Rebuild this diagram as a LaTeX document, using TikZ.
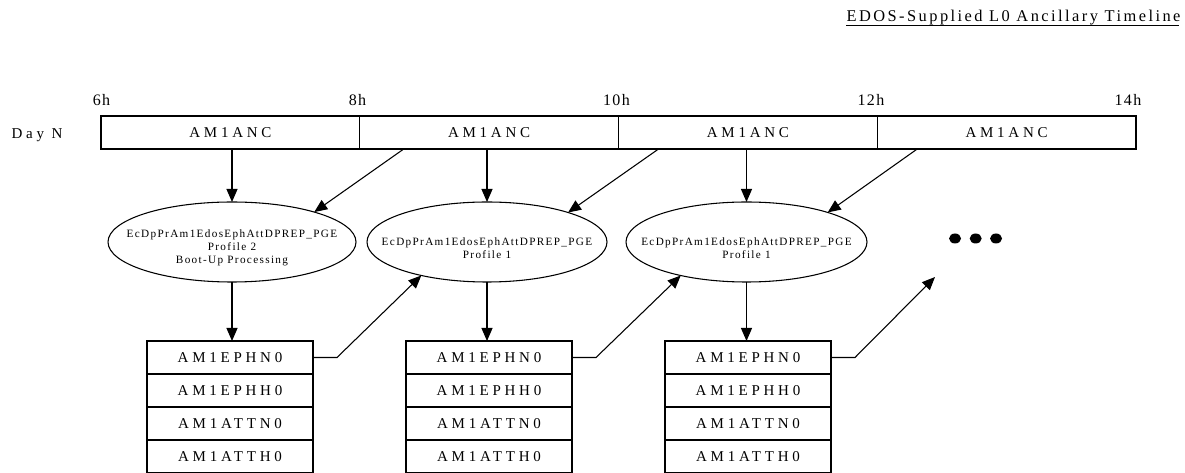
\documentclass[tikz,border=0pt]{standalone}
\usepackage{fontspec}
\setmainfont{Liberation Serif}
\newfontfamily\spacedA[LetterSpace=25]{Liberation Serif}
\newfontfamily\spacedB[LetterSpace=12]{Liberation Serif}
\newfontfamily\spacedT[LetterSpace=15]{Liberation Serif}
\newfontfamily\spacedC[LetterSpace=8]{Liberation Serif}
\usetikzlibrary{shapes.geometric,arrows.meta,calc}
\begin{document}
\begin{tikzpicture}[x=0.75pt,y=-0.75pt,line width=0.8pt,
  seg/.style={draw,rectangle,minimum width=194.06pt,minimum height=24.75pt,inner sep=0pt,outer sep=0pt,
    font=\spacedA\fontsize{11.25}{13}\selectfont},
  row/.style={draw,rectangle,minimum width=124.5pt,minimum height=24.75pt,inner sep=0pt,outer sep=0pt,
    font=\spacedA\fontsize{11.25}{13}\selectfont},
  proc/.style={draw,ellipse,minimum height=60pt,inner sep=0pt,outer sep=0pt},
  ptext/.style={align=center,inner sep=0pt,font=\spacedB\fontsize{8.4}{9.9}\selectfont},
  hour/.style={anchor=base,inner sep=0pt,font=\spacedC\fontsize{12}{14}\selectfont},
  dot/.style={fill,ellipse,minimum width=9pt,minimum height=7.5pt,inner sep=0pt},
  arr/.style={-{Triangle[length=9.75pt,width=8.25pt]}}]
\useasboundingbox (0,0) rectangle (1185,473);

% title
\node[anchor=base east,inner sep=0pt,font=\spacedT\fontsize{12.3}{14}\selectfont] (title) at (1181,22) {EDOS-Supplied L0 Ancillary Timeline};
\draw[line width=0.6pt] ([yshift=-2.2pt]title.base west) -- ([yshift=-2.2pt,xshift=-1.5pt]title.base east);

% hours
\node[hour] (h6) at (101.5,106) {6h};
\node[hour] (h8) at (357.5,106) {8h};
\node[hour] (h10) at (616.5,106) {10h};
\node[hour] (h12) at (871,106) {12h};
\node[hour] (h14) at (1128,106) {14h};
\node[anchor=base,inner sep=0pt,font=\spacedA\fontsize{11.25}{13}\selectfont] (day) at (37,139) {Day N};

% timeline
\node[seg] (s1) at (230.4,132.5) {AM1ANC};
\node[seg] (s2) at (489.1,132.5) {AM1ANC};
\node[seg] (s3) at (747.9,132.5) {AM1ANC};
\node[seg] (s4) at (1006.6,132.5) {AM1ANC};

% processes
\node[proc,minimum width=186pt] (e1) at (232,242) {};
\node[proc,minimum width=180pt] (e2) at (487,242) {};
\node[proc,minimum width=180.75pt] (e3) at (746.5,242) {};
\node[ptext] (t1) at (232,248) {EcDpPrAm1EdosEphAttDPREP\_PGE\\Profile 2\\Boot-Up Processing};
\node[ptext] (t2) at (487,248.5) {EcDpPrAm1EdosEphAttDPREP\_PGE\\Profile 1};
\node[ptext] (t3) at (746.5,248.5) {EcDpPrAm1EdosEphAttDPREP\_PGE\\Profile 1};

% dots
\node[dot] (d1) at (955,238.5) {};
\node[dot] (d2) at (975.7,238.5) {};
\node[dot] (d3) at (996,238.5) {};

% stacks
\foreach \k/\x in {1/230,2/489,3/748}{
  \node[row] (r\k1) at (\x,357.5) {AM1EPHN0};
  \node[row] (r\k2) at (\x,390.5) {AM1EPHH0};
  \node[row] (r\k3) at (\x,423.5) {AM1ATTN0};
  \node[row] (r\k4) at (\x,456.5) {AM1ATTH0};
}

% connectors from timeline
\draw[arr] (s1.south -| e1.north) -- (e1.north);
\draw[arr] (s2.south -| e2.north) -- (e2.north);
\draw[arr] (s3.south -| e3.north) -- (e3.north);
\draw[arr] ($(s2.south west)+(44,0)$) -- (e1.20);
\draw[arr] ($(s3.south west)+(40,0)$) -- (e2.20);
\draw[arr] ($(s4.south west)+(40,0)$) -- (e3.20);

% process to stack
\draw[arr] (e1.south) -- (e1.south |- r11.north);
\draw[arr] (e2.south) -- (e2.south |- r21.north);
\draw[arr] (e3.south) -- (e3.south |- r31.north);

% stack to next process
\coordinate (free) at (935,277);
\draw[arr] (r11.east) -- ++(24,0) -- (e2.207);
\draw[arr] (r21.east) -- ++(24,0) -- (e3.207);
\draw[arr] (r31.east) -- ++(24,0) -- (free);
\end{tikzpicture}
\end{document}
